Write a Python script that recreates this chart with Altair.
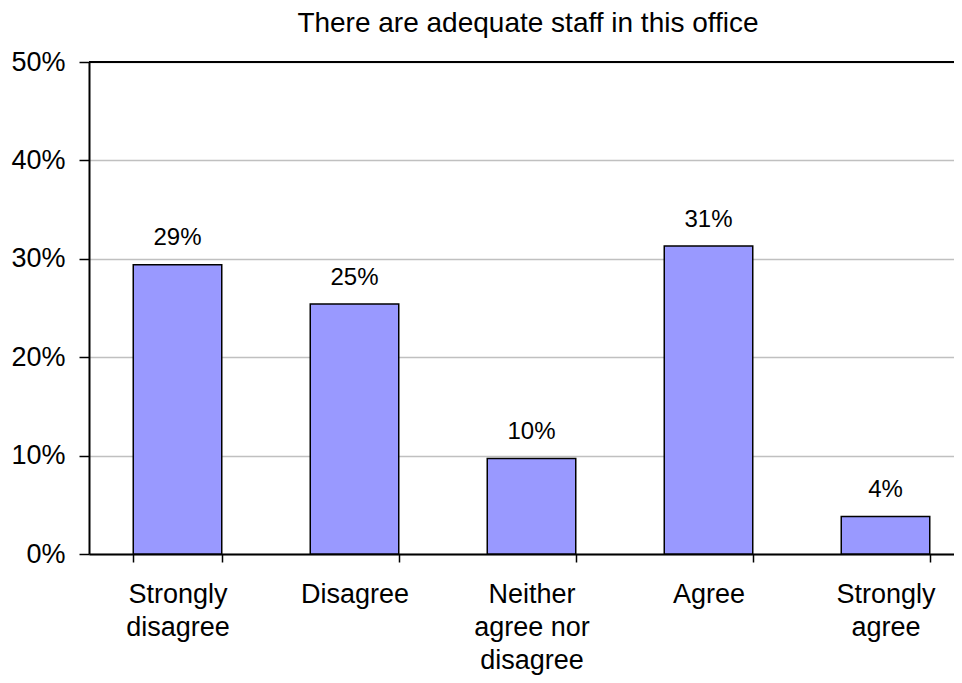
import json
import altair as alt
import pandas as pd

categories = ["Strongly disagree", "Disagree", "Neither agree nor disagree", "Agree", "Strongly agree"]
label_lines = [["Strongly", "disagree"], ["Disagree"], ["Neither", "agree nor", "disagree"], ["Agree"], ["Strongly", "agree"]]
shares = [0.294, 0.254, 0.097, 0.313, 0.038]
y_ticks = [0, 0.1, 0.2, 0.3, 0.4, 0.5]
title_text = "There are adequate staff in this office"

df = pd.DataFrame({"category": categories, "share": shares})

expr = "''"
for c, lines in reversed(list(zip(categories, label_lines))):
    expr = f"datum.value === {json.dumps(c)} ? {json.dumps(lines)} : ({expr})"

FONT = "Liberation Sans"

x = alt.X(
    "category:N",
    sort=categories,
    scale=alt.Scale(paddingInner=0.5, paddingOuter=0.25, range=[0, 885]),
    axis=alt.Axis(
        title=None, labelAngle=0, labelExpr=expr, tickBand="extent", grid=False,
        ticks=True, tickSize=8, tickColor="black", tickWidth=1.5,
        domainColor="black", domainWidth=2,
        labelFontSize=27, labelFont=FONT, labelColor="black",
        labelLineHeight=33, labelPadding=19, labelOverlap=False, labelLimit=300,
    ),
)
y = alt.Y(
    "share:Q",
    scale=alt.Scale(domain=[0, 0.5]),
    axis=alt.Axis(
        values=y_ticks, format=".0%", title=None, grid=True,
        gridColor="#c0c0c0", gridWidth=1.5,
        domainColor="black", domainWidth=2,
        tickColor="black", tickSize=10, tickWidth=1.5,
        labelFontSize=27, labelFont=FONT, labelColor="black", labelPadding=14,
    ),
)

base = alt.Chart(df)
top_rule = base.mark_rule(color="black", strokeWidth=2).encode(y=alt.datum(0.5))
bars = base.mark_bar(color="#9999FF", stroke="black", strokeWidth=1.5).encode(x=x, y=y)
labels = base.mark_text(baseline="alphabetic", dy=-19.5, fontSize=24, font=FONT, color="black").encode(
    x=x, y=y, text=alt.Text("share:Q", format=".0%")
)

chart = (
    alt.layer(top_rule, bars, labels)
    .properties(
        width=865,
        height=492,
        title=alt.TitleParams(
            title_text, fontSize=28, fontWeight="normal", font=FONT, color="black",
            offset=10, anchor="middle", frame="group", dx=6.5,
        ),
        autosize=alt.AutoSizeParams(type="none"),
        padding={"left": 81, "top": 54, "right": 0, "bottom": 121},
    )
    .configure_view(stroke=None)
    .configure(background="white")
)

chart.save("out.html", embed_options={"renderer": "svg", "actions": False})
